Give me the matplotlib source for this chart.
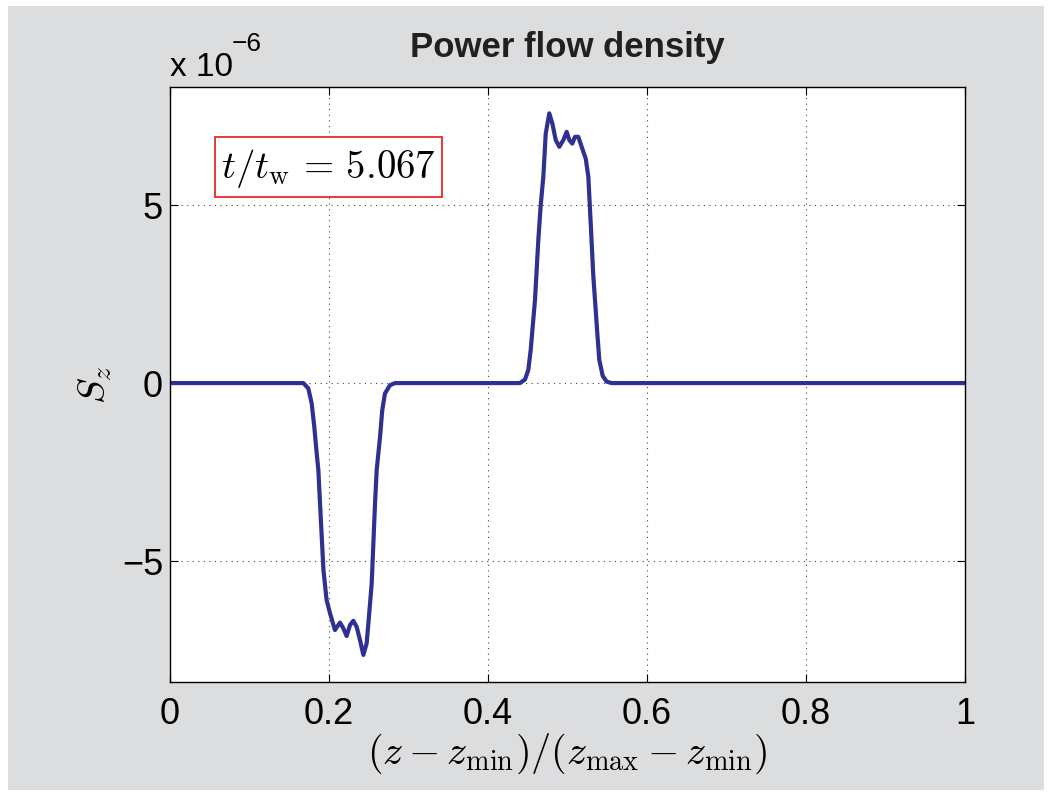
import matplotlib
matplotlib.use("Agg")
import matplotlib.pyplot as plt
from matplotlib.patches import Rectangle
import numpy as np

# Data (normalised position, S_z in units of 1e-6)
z_norm = [0.0, 0.1677, 0.174, 0.1782, 0.1815, 0.1845, 0.1866, 0.1887, 0.193,
          0.197, 0.2013, 0.2075, 0.2138, 0.218, 0.2222, 0.2264, 0.2306, 0.2348,
          0.239, 0.2432, 0.2474, 0.2506, 0.2537, 0.2579, 0.26, 0.2642, 0.267,
          0.2704, 0.2767, 0.283,
          0.4403, 0.4465, 0.4507, 0.4537, 0.4562, 0.4591, 0.4633, 0.4663, 0.4696,
          0.4726, 0.4771, 0.481, 0.4852, 0.4897, 0.4948, 0.499, 0.5023, 0.506,
          0.5094, 0.5136, 0.5178, 0.5229, 0.5262, 0.5292, 0.5325, 0.5346, 0.5375,
          0.54, 0.5443, 0.5493, 0.5556, 1.0]
s_z = [0.0, 0.0, -0.15, -0.57, -1.23, -1.97, -2.44, -3.38, -5.25,
       -6.1, -6.47, -6.94, -6.73, -6.89, -7.11, -6.8, -6.68, -6.85,
       -7.22, -7.64, -7.31, -6.47, -5.63, -3.38, -2.44, -1.51, -0.76,
       -0.29, -0.06, 0.0,
       0.0, 0.1, 0.37, 0.93, 1.58, 2.33, 4.02, 5.0, 5.8,
       7.01, 7.58, 7.29, 6.83, 6.64, 6.83, 7.06, 6.83, 6.73,
       6.92, 6.92, 6.64, 6.31, 5.8, 4.49, 2.99, 2.33, 1.4,
       0.65, 0.2, 0.04, 0.0, 0.0]
x_ticks = [0, 0.2, 0.4, 0.6, 0.8, 1]
x_tick_labels = ["0", "0.2", "0.4", "0.6", "0.8", "1"]
y_ticks = [-5, 0, 5]
y_tick_labels = ["\u22125", "0", "5"]
scale = 1e-6

plt.rcParams['mathtext.fontset'] = 'cm'
sans = ['Liberation Sans', 'DejaVu Sans']
plt.rcParams['font.family'] = sans

W, H = 1052, 796
fig = plt.figure(figsize=(W / 100, H / 100), dpi=100, facecolor='white')
fig.patches.append(Rectangle((8 / W, 6 / H), (1044 - 8) / W, (790 - 6) / H,
                             transform=fig.transFigure, facecolor='#dcdddf',
                             edgecolor='none', zorder=-10))

ax = fig.add_axes([170 / W, 1 - 682 / H, (965 - 170) / W, (682 - 87) / H])
ax.set_facecolor('white')

x = np.array(z_norm)
y = np.array(s_z) * scale
ax.plot(x, y, color='#2e3192', lw=3.0, solid_joinstyle='round',
        solid_capstyle='round')

ax.set_xlim(0, 1)
ax.set_ylim(-8.4 * scale, 8.32 * scale)
ax.set_xticks(x_ticks)
ax.set_xticklabels(x_tick_labels)
ax.set_yticks([v * scale for v in y_ticks])
ax.set_yticklabels(y_tick_labels)
ax.tick_params(direction='in', length=6, width=0.8, labelsize=26,
               top=True, right=True)
ax.tick_params(axis='x', pad=11)
ax.tick_params(axis='y', pad=5)
ax.grid(True, linestyle=(0, (1, 4)), color='#444444', linewidth=0.8)
for sp in ax.spines.values():
    sp.set_linewidth(1.0)
    sp.set_color('black')

fig.text(567 / W, 1 - 47 / H, 'Power flow density', fontsize=25,
         fontweight='bold', ha='center', va='center', color='#231f20')
fig.text(170 / W, 1 - 67 / H, 'x 10', fontsize=24, ha='left', va='center')
fig.text(232 / W, 1 - 44 / H, '\u22126', fontsize=19, ha='left', va='center')

ax.set_xlabel(r'$(z - z_{\min})/(z_{\max} - z_{\min})$', fontsize=29)
ax.xaxis.set_label_coords(0.5, -0.083)
ax.xaxis.label.set_va('top')
ax.set_ylabel(r'$S_z$', fontsize=28)
ax.yaxis.set_label_coords(-0.07, 0.5)

x0, x1 = (215 - 170) / 795, (442 - 170) / 795
y0, y1 = (682 - 197) / 595, (682 - 137) / 595
ax.add_patch(Rectangle((x0, y0), x1 - x0, y1 - y0, transform=ax.transAxes,
                       facecolor='white', edgecolor='#e8262b', linewidth=1.3,
                       zorder=5))
ax.text((x0 + x1) / 2, (y0 + y1) / 2 - 0.003, r'$t/t_{\rm w}\,=\,5.067$',
        transform=ax.transAxes, fontsize=28, ha='center', va='center',
        zorder=6)

fig.savefig('out.png', dpi=100, facecolor=fig.get_facecolor())
